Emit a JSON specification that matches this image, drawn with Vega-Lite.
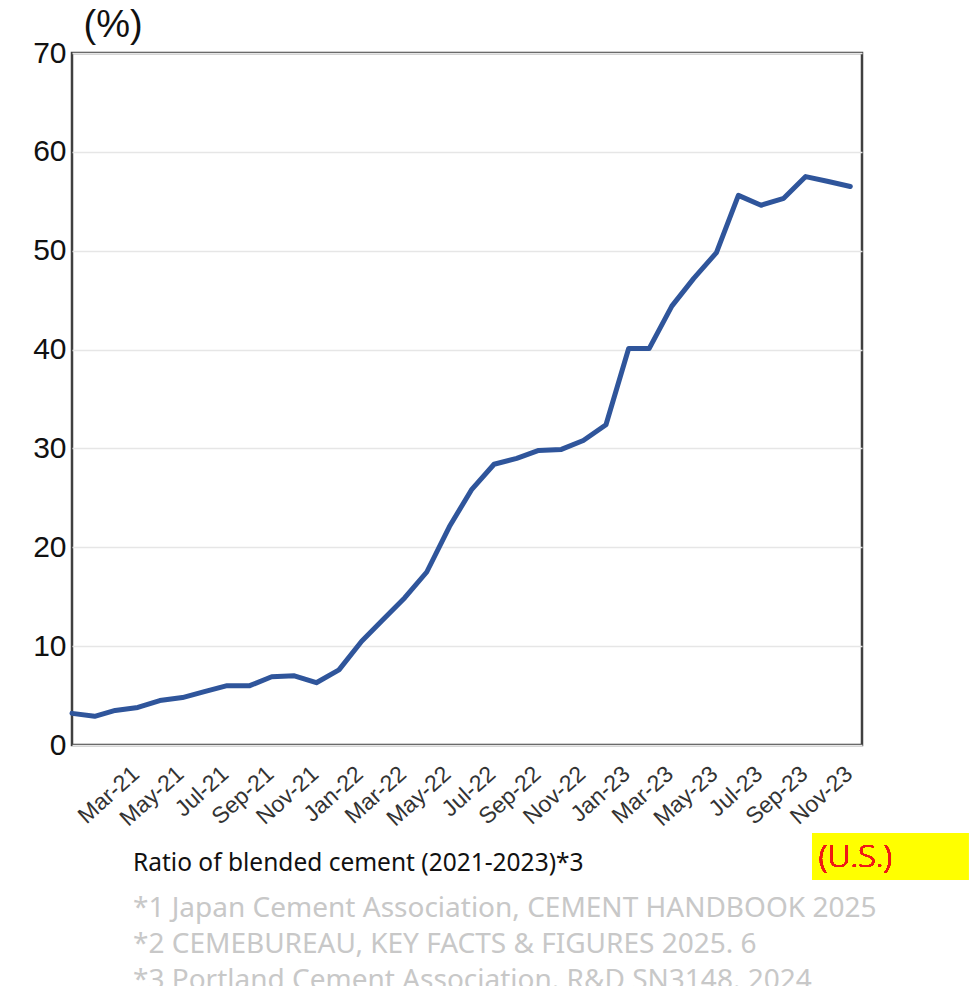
{
  "$schema": "https://vega.github.io/schema/vega-lite/v6.json",
  "autosize": "none",
  "width": 790,
  "height": 692,
  "padding": {"left": 72, "top": 53, "right": 110, "bottom": 241},
  "background": "white",
  "config": {
    "view": {"stroke": "#404040", "strokeWidth": 2.5},
    "font": "Liberation Sans"
  },
  "title": {
    "text": "Ratio of blended cement (2021-2023)*3",
    "subtitle": [
      "*1 Japan Cement Association, CEMENT HANDBOOK  2025",
      "*2 CEMEBUREAU, KEY FACTS & FIGURES 2025. 6",
      "*3 Portland Cement Association. R&D SN3148. 2024"
    ],
    "orient": "bottom",
    "anchor": "start",
    "frame": "group",
    "dx": 61,
    "offset": -28,
    "font": "Noto Sans",
    "fontSize": 24.5,
    "fontWeight": "normal",
    "color": "#111111",
    "subtitleFont": "Noto Sans",
    "subtitleFontSize": 28,
    "subtitleColor": "#c8c8c8",
    "subtitleLineHeight": 36,
    "subtitlePadding": 18
  },
  "data": {
    "values": [
      {"month": "2021-01-01", "ratio": 3.2},
      {"month": "2021-02-01", "ratio": 2.9},
      {"month": "2021-03-01", "ratio": 3.5},
      {"month": "2021-04-01", "ratio": 3.8},
      {"month": "2021-05-01", "ratio": 4.5},
      {"month": "2021-06-01", "ratio": 4.8},
      {"month": "2021-07-01", "ratio": 5.4},
      {"month": "2021-08-01", "ratio": 6.0},
      {"month": "2021-09-01", "ratio": 6.0},
      {"month": "2021-10-01", "ratio": 6.9},
      {"month": "2021-11-01", "ratio": 7.0},
      {"month": "2021-12-01", "ratio": 6.3},
      {"month": "2022-01-01", "ratio": 7.6},
      {"month": "2022-02-01", "ratio": 10.5},
      {"month": "2022-03-01", "ratio": 12.6},
      {"month": "2022-04-01", "ratio": 14.9},
      {"month": "2022-05-01", "ratio": 17.5},
      {"month": "2022-06-01", "ratio": 22.1},
      {"month": "2022-07-01", "ratio": 25.8},
      {"month": "2022-08-01", "ratio": 28.4},
      {"month": "2022-09-01", "ratio": 29.0},
      {"month": "2022-10-01", "ratio": 29.8},
      {"month": "2022-11-01", "ratio": 29.9},
      {"month": "2022-12-01", "ratio": 30.8},
      {"month": "2023-01-01", "ratio": 32.4},
      {"month": "2023-02-01", "ratio": 40.1},
      {"month": "2023-03-01", "ratio": 40.1},
      {"month": "2023-04-01", "ratio": 44.4},
      {"month": "2023-05-01", "ratio": 47.2},
      {"month": "2023-06-01", "ratio": 49.8},
      {"month": "2023-07-01", "ratio": 55.6},
      {"month": "2023-08-01", "ratio": 54.6},
      {"month": "2023-09-01", "ratio": 55.3},
      {"month": "2023-10-01", "ratio": 57.5},
      {"month": "2023-11-01", "ratio": 57.0},
      {"month": "2023-12-01", "ratio": 56.5}
    ]
  },
  "layer": [
    {
      "mark": {"type": "line", "color": "#2F559B", "strokeWidth": 5, "strokeJoin": "round", "strokeCap": "round"},
      "encoding": {
        "x": {
          "field": "month",
          "type": "temporal",
          "scale": {"type": "utc", "domain": [{"year": 2021, "month": 1, "date": 1, "utc": true}, {"year": 2023, "month": 12, "date": 17, "utc": true}]},
          "axis": {
            "title": null,
            "values": [
              {"year": 2021, "month": 3, "date": 1, "utc": true},
              {"year": 2021, "month": 5, "date": 1, "utc": true},
              {"year": 2021, "month": 7, "date": 1, "utc": true},
              {"year": 2021, "month": 9, "date": 1, "utc": true},
              {"year": 2021, "month": 11, "date": 1, "utc": true},
              {"year": 2022, "month": 1, "date": 1, "utc": true},
              {"year": 2022, "month": 3, "date": 1, "utc": true},
              {"year": 2022, "month": 5, "date": 1, "utc": true},
              {"year": 2022, "month": 7, "date": 1, "utc": true},
              {"year": 2022, "month": 9, "date": 1, "utc": true},
              {"year": 2022, "month": 11, "date": 1, "utc": true},
              {"year": 2023, "month": 1, "date": 1, "utc": true},
              {"year": 2023, "month": 3, "date": 1, "utc": true},
              {"year": 2023, "month": 5, "date": 1, "utc": true},
              {"year": 2023, "month": 7, "date": 1, "utc": true},
              {"year": 2023, "month": 9, "date": 1, "utc": true},
              {"year": 2023, "month": 11, "date": 1, "utc": true}
            ],
            "labelExpr": "utcFormat(datum.value, '%b-%y')",
            "grid": false,
            "ticks": false,
            "domain": false,
            "labelAngle": -42,
            "labelAlign": "right",
            "labelBaseline": "top",
            "labelFontSize": 23,
            "labelColor": "#333333",
            "labelOffset": 13,
            "labelPadding": 17,
            "labelOverlap": false,
            "labelFlush": false
          }
        },
        "y": {
          "field": "ratio",
          "type": "quantitative",
          "scale": {"domain": [0, 70], "nice": false, "zero": true},
          "axis": {
            "title": "(%)",
            "titleAngle": 0,
            "titleAlign": "left",
            "titleBaseline": "alphabetic",
            "titleX": 11,
            "titleY": -17,
            "titleFontSize": 38,
            "titleFontWeight": "normal",
            "titleColor": "#111111",
            "values": [0, 10, 20, 30, 40, 50, 60, 70],
            "grid": true,
            "gridColor": "#e6e6e6",
            "gridWidth": 1.5,
            "ticks": false,
            "domain": false,
            "labelFontSize": 30,
            "labelColor": "#111111",
            "labelPadding": 6
          }
        }
      }
    },
    {
      "mark": {"type": "rect", "color": "#FFFF00", "clip": false},
      "encoding": {
        "x": {"datum": {"year": 2023, "month": 10, "date": 10, "utc": true}, "type": "temporal"},
        "x2": {"datum": {"year": 2024, "month": 5, "date": 10, "utc": true}},
        "y": {"datum": -8.9, "type": "quantitative"},
        "y2": {"datum": -13.66}
      }
    },
    {
      "mark": {"type": "text", "text": "(U.S.)", "color": "#F01818", "fontSize": 32, "font": "Open Sans", "fontWeight": 300, "align": "center", "baseline": "middle", "clip": false},
      "encoding": {
        "x": {"datum": {"year": 2023, "month": 12, "date": 8, "utc": true}, "type": "temporal"},
        "y": {"datum": -11.3, "type": "quantitative"}
      }
    }
  ]
}
